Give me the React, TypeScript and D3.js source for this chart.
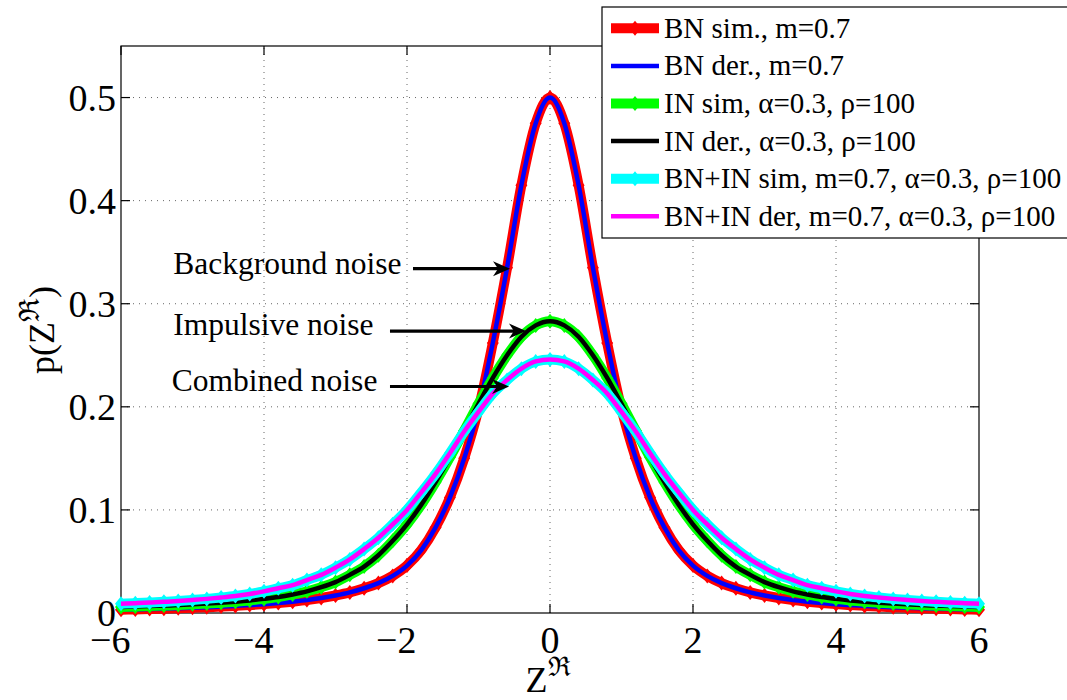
import React from 'react';
import * as d3 from 'd3';

// x grid of the curves (Z^R)
const xValues = [
  -6, -5.8, -5.6, -5.4, -5.2, -5, -4.8, -4.6, -4.4, -4.2, -4, -3.8, -3.6, -3.4, -3.2, -3, -2.8, -2.6, -2.4, -2.2,
  -2, -1.8, -1.6, -1.4, -1.2, -1, -0.8, -0.6, -0.4, -0.2, 0, 0.2, 0.4, 0.6, 0.8, 1, 1.2, 1.4, 1.6, 1.8,
  2, 2.2, 2.4, 2.6, 2.8, 3, 3.2, 3.4, 3.6, 3.8, 4, 4.2, 4.4, 4.6, 4.8, 5, 5.2, 5.4, 5.6, 5.8, 6,
];

// Background noise density (BN), m = 0.7
const bnDensity = [
  0.0032, 0.0035, 0.0038, 0.0042, 0.0046, 0.0051, 0.0056, 0.0062, 0.0069, 0.0077, 0.0086, 0.0097, 0.011, 0.0125, 0.0145,
  0.017, 0.02, 0.024, 0.029, 0.036, 0.046, 0.061, 0.083, 0.112, 0.15, 0.198, 0.262, 0.335, 0.415, 0.475,
  0.5,
  0.475, 0.415, 0.335, 0.262, 0.198, 0.15, 0.112, 0.083, 0.061, 0.046, 0.036, 0.029, 0.024, 0.02, 0.017,
  0.0145, 0.0125, 0.011, 0.0097, 0.0086, 0.0077, 0.0069, 0.0062, 0.0056, 0.0051, 0.0046, 0.0042, 0.0038, 0.0035, 0.0032,
];

// Impulsive noise density (IN), alpha = 0.3, rho = 100
const inDensity = [
  0.0059, 0.0063, 0.0067, 0.0072, 0.0077, 0.0084, 0.0091, 0.01, 0.011, 0.0122, 0.0137, 0.0155, 0.018, 0.021, 0.025,
  0.03, 0.037, 0.045, 0.056, 0.07, 0.086, 0.105, 0.127, 0.151, 0.177, 0.203, 0.228, 0.25, 0.268, 0.279,
  0.283,
  0.279, 0.268, 0.25, 0.228, 0.203, 0.177, 0.151, 0.127, 0.105, 0.086, 0.07, 0.056, 0.045, 0.037, 0.03,
  0.025, 0.021, 0.018, 0.0155, 0.0137, 0.0122, 0.011, 0.01, 0.0091, 0.0084, 0.0077, 0.0072, 0.0067, 0.0063, 0.0059,
];

// Combined noise density (BN+IN)
const bnInDensity = [
  0.009, 0.0095, 0.0101, 0.0108, 0.0116, 0.0126, 0.0137, 0.015, 0.0165, 0.0185, 0.021, 0.024, 0.027, 0.032, 0.037,
  0.044, 0.052, 0.062, 0.073, 0.086, 0.1, 0.117, 0.135, 0.155, 0.176, 0.195, 0.213, 0.226, 0.237, 0.244,
  0.246,
  0.244, 0.237, 0.226, 0.213, 0.195, 0.176, 0.155, 0.135, 0.117, 0.1, 0.086, 0.073, 0.062, 0.052, 0.044,
  0.037, 0.032, 0.027, 0.024, 0.021, 0.0185, 0.0165, 0.015, 0.0137, 0.0126, 0.0116, 0.0108, 0.0101, 0.0095, 0.009,
];

const xTicks = [-6, -4, -2, 0, 2, 4, 6];
const yTicks = [0, 0.1, 0.2, 0.3, 0.4, 0.5];
const yTickLabels = ['0', '0.1', '0.2', '0.3', '0.4', '0.5'];

const legendLabels = [
  'BN sim., m=0.7',
  'BN der., m=0.7',
  'IN sim, α=0.3, ρ=100',
  'IN der., α=0.3, ρ=100',
  'BN+IN sim, m=0.7, α=0.3, ρ=100',
  'BN+IN der, m=0.7, α=0.3, ρ=100',
];

const annotationTexts = ['Background noise', 'Impulsive noise', 'Combined noise'];
// text anchor (data coords), arrow start/end (data coords)
const annotationTextX = [-5.27, -5.27, -5.29];
const annotationTextY = [0.329, 0.2697, 0.2153];
const arrowStartX = [-1.916, -2.238, -2.238];
const arrowEndX = [-0.559, -0.336, -0.573];
const arrowY = [0.334, 0.2735, 0.2197];

const FONT = "'Liberation Serif','Times New Roman',serif";

export default function App() {
  const W = 1067;
  const H = 700;
  const x = d3.scaleLinear().domain([-6, 6]).range([121, 979]);
  const y = d3.scaleLinear().domain([0, 0.55]).range([613, 46]);

  const line = d3
    .line<number>()
    .x((_, i) => x(xValues[i]))
    .y((d) => y(d))
    .curve(d3.curveMonotoneX);

  const series = [
    { label: legendLabels[0], values: bnDensity, color: '#ff0000', sim: true },
    { label: legendLabels[1], values: bnDensity, color: '#0000ff', sim: false },
    { label: legendLabels[2], values: inDensity, color: '#00ff00', sim: true },
    { label: legendLabels[3], values: inDensity, color: '#000000', sim: false },
    { label: legendLabels[4], values: bnInDensity, color: '#00ffff', sim: true },
    { label: legendLabels[5], values: bnInDensity, color: '#ff00ff', sim: false },
  ];

  const simWidth = 10;
  const derWidth = 4.5;
  const mk = 7.5;
  const diamond = `M0,${-mk}L${mk * 0.8},0L0,${mk}L${-mk * 0.8},0Z`;

  const [x0, x1] = x.range();
  const [yb, yt] = y.range();
  const tickLen = 9;

  const legendX = 602;
  const legendY = 7;
  const legendRowH = 37.6;
  const legendFirst = 28.3;

  return (
    <svg
      width={W}
      height={H}
      style={{ position: 'absolute', left: 0, top: 0, background: '#fff', fontFamily: FONT }}
    >
      <rect x={0} y={0} width={W} height={H} fill="#fff" />
      {/* grid */}
      <g stroke="#666" strokeWidth={1} strokeDasharray="1,5">
        {xTicks
          .filter((t) => t !== -6 && t !== 6)
          .map((t) => (
            <line key={'gx' + t} x1={x(t)} x2={x(t)} y1={yb} y2={yt} />
          ))}
        {yTicks
          .filter((t) => t !== 0)
          .map((t) => (
            <line key={'gy' + t} x1={x0} x2={x1} y1={y(t)} y2={y(t)} />
          ))}
      </g>
      {/* box + ticks */}
      <g stroke="#000" strokeWidth={1.2} fill="none">
        <rect x={x0} y={yt} width={x1 - x0} height={yb - yt} />
        {xTicks.map((t) => (
          <g key={'tx' + t}>
            <line x1={x(t)} x2={x(t)} y1={yb} y2={yb - tickLen} />
            <line x1={x(t)} x2={x(t)} y1={yt} y2={yt + tickLen} />
          </g>
        ))}
        {yTicks.map((t) => (
          <g key={'ty' + t}>
            <line x1={x0} x2={x0 + tickLen} y1={y(t)} y2={y(t)} />
            <line x1={x1} x2={x1 - tickLen} y1={y(t)} y2={y(t)} />
          </g>
        ))}
      </g>
      {/* tick labels */}
      <g fontSize={38} fill="#000">
        {yTicks.map((t, i) => (
          <text key={'yl' + t} x={x0 - 5} y={y(t) + 13} textAnchor="end">
            {yTickLabels[i]}
          </text>
        ))}
        {xTicks.map((t) => (
          <text
            key={'xl' + t}
            x={t < 0 ? x(t) + 9.5 : x(t)}
            y={yb + 40}
            textAnchor={t < 0 ? 'end' : 'middle'}
          >
            {t < 0 ? '\u2212' + Math.abs(t) : String(t)}
          </text>
        ))}
      </g>
      {/* axis labels */}
      <text x={548} y={692} textAnchor="middle" fill="#000">
        <tspan fontSize={36}>Z</tspan>
        <tspan fontSize={27} dy={-16}>ℜ</tspan>
      </text>
      <text transform="translate(54,330) rotate(-90)" textAnchor="middle" fill="#000">
        <tspan fontSize={36}>p(Z</tspan>
        <tspan fontSize={28} dy={-15}>ℜ</tspan>
        <tspan fontSize={36} dy={15}>)</tspan>
      </text>
      {/* curves */}
      {series.map((s, si) => (
        <g key={'s' + si}>
          <path
            d={line(s.values) || ''}
            fill="none"
            stroke={s.color}
            strokeWidth={s.sim ? simWidth : derWidth}
            strokeLinejoin="round"
          />
          {s.sim &&
            s.values.map((v, i) => (
              <path key={i} d={diamond} transform={`translate(${x(xValues[i])},${y(v)})`} fill={s.color} />
            ))}
        </g>
      ))}
      {/* annotations */}
      {annotationTexts.map((t, i) => {
        const sx = x(arrowStartX[i]);
        const ex = x(arrowEndX[i]);
        const ay = y(arrowY[i]);
        return (
          <g key={'a' + i}>
            <text x={x(annotationTextX[i])} y={y(annotationTextY[i])} fontSize={31.5} fill="#000">
              {t}
            </text>
            <line x1={sx} x2={ex - 10} y1={ay} y2={ay} stroke="#000" strokeWidth={3.2} />
            <path d={`M${ex},${ay}L${ex - 17},${ay - 7.5}L${ex - 12},${ay}L${ex - 17},${ay + 7.5}Z`} fill="#000" />
          </g>
        );
      })}
      {/* legend */}
      <g>
        <rect x={legendX} y={legendY} width={W - legendX + 10} height={231} fill="#fff" stroke="#000" strokeWidth={1.2} />
        {series.map((s, i) => {
          const cy = legendFirst + i * legendRowH;
          return (
            <g key={'lg' + i}>
              <line x1={611} x2={659} y1={cy} y2={cy} stroke={s.color} strokeWidth={s.sim ? 10 : derWidth} />
              {s.sim && <path d={diamond} transform={`translate(635,${cy})`} fill={s.color} />}
              <text x={664} y={cy + 9.5} fontSize={29} fill="#000">
                {s.label}
              </text>
            </g>
          );
        })}
      </g>
    </svg>
  );
}
